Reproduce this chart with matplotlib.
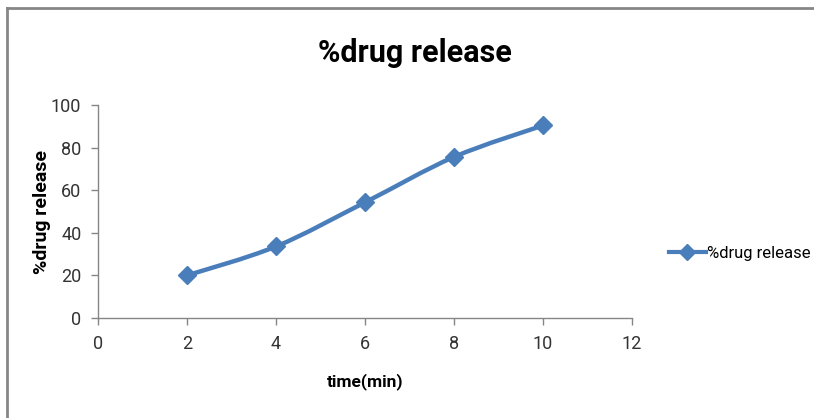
import numpy as np
import matplotlib.pyplot as plt
from matplotlib.path import Path
from matplotlib.patches import PathPatch
from matplotlib.lines import Line2D

time_min = [2, 4, 6, 8, 10]
drug_release = [20.0, 33.6, 54.3, 75.6, 90.4]
x_ticks = [0, 2, 4, 6, 8, 10, 12]
y_ticks = [0, 20, 40, 60, 80, 100]

blue = '#4a7ebb'
gray = '#868686'
font = ['Roboto', 'DejaVu Sans']

fig = plt.figure(figsize=(8.14, 4.18), dpi=100)
ax = fig.add_axes([0.1204, 0.2392, 0.6560, 0.5096])

# smoothed line like excel (catmull-rom as bezier segments)
pts = np.column_stack([time_min, drug_release])
verts = [pts[0]]
codes = [Path.MOVETO]
for i in range(len(pts) - 1):
    p0 = pts[i - 1] if i > 0 else pts[i]
    p1 = pts[i]
    p2 = pts[i + 1]
    p3 = pts[i + 2] if i + 2 < len(pts) else pts[i + 1]
    c1 = p1 + (p2 - p0) / 6
    c2 = p2 - (p3 - p1) / 6
    verts += [c1, c2, p2]
    codes += [Path.CURVE4] * 3
ax.add_patch(PathPatch(Path(verts, codes), fill=False, edgecolor=blue, lw=3.2,
                       capstyle='round', joinstyle='round'))
ax.plot(time_min, drug_release, linestyle='none', marker='D', ms=9.5,
        color=blue, zorder=3)

ax.set_xlim(0, 12)
ax.set_ylim(0, 100)
ax.set_xticks(x_ticks)
ax.set_yticks(y_ticks)
for s in ['top', 'right']:
    ax.spines[s].set_visible(False)
for s in ['left', 'bottom']:
    ax.spines[s].set_color(gray)
    ax.spines[s].set_linewidth(1)
ax.tick_params(colors=gray, length=5, width=1, labelcolor='#333333', pad=7)
for lab in ax.get_xticklabels() + ax.get_yticklabels():
    lab.set_family(font)
    lab.set_fontsize(13)

ax.set_xlabel('time(min)', family=font, fontsize=12.5, fontweight='bold', labelpad=15)
ax.set_ylabel('%drug release', family=font, fontsize=14, fontweight='bold', labelpad=0)
fig.suptitle('%drug release', x=0.51, y=0.91, family=font, fontsize=22,
             fontweight='bold')

handle = Line2D([], [], color=blue, lw=3, marker='D', ms=8)
ax.legend([handle], ['%drug release'], loc='center left',
          bbox_to_anchor=(1.069, 0.305), frameon=False, handlelength=2.2,
          handletextpad=0.1, borderpad=0, borderaxespad=0,
          prop={'family': font, 'size': 12})

# chart border (left and top visible)
fig.add_artist(Line2D([0.0092, 0.0092], [0, 0.982], color=gray, lw=2))
fig.add_artist(Line2D([0.0092, 1], [0.982, 0.982], color=gray, lw=2))

fig.savefig('out.png', dpi=100)
